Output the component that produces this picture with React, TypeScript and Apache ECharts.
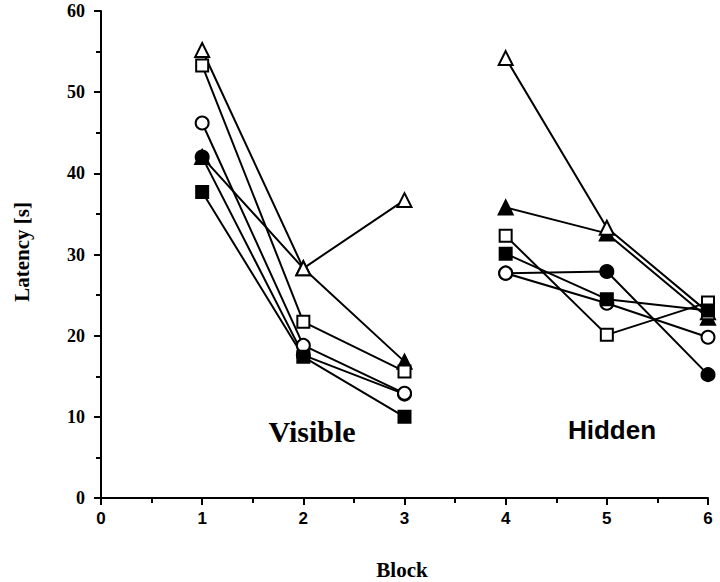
import React, { useEffect, useRef } from "react";
import * as echarts from "echarts";

const blocks = [1, 2, 3, 4, 5, 6];
const openTriangle = [55.2, 28.3, 36.7, 54.2, 33.3, 22.9];
const filledTriangle = [42.0, 28.3, 16.8, 35.8, 32.6, 22.2];
const openSquare = [53.3, 21.7, 15.6, 32.3, 20.1, 24.1];
const filledSquare = [37.7, 17.4, 10.0, 30.1, 24.5, 23.1];
const openCircle = [46.2, 18.8, 12.9, 27.7, 24.0, 19.8];
const filledCircle = [42.0, 17.6, 12.8, 27.7, 27.9, 15.2];
const phaseLabels = ["Visible", "Hidden"];

function toData(vals: number[]) {
  const d: any[] = [];
  vals.forEach((v, i) => {
    if (i === 3) d.push([3.5, "-"]);
    d.push([blocks[i], v]);
  });
  return d;
}

function mk(name: string, vals: number[], symbol: string, filled: boolean, size: number) {
  return {
    name,
    type: "line",
    data: toData(vals),
    symbol,
    symbolSize: size,
    connectNulls: false,
    lineStyle: { color: "#000", width: 2 },
    itemStyle: { color: filled ? "#000" : "#fff", borderColor: "#000", borderWidth: 2 },
    emphasis: { disabled: true },
  };
}

export default function App() {
  const ref = useRef<HTMLDivElement>(null);
  useEffect(() => {
    if (!ref.current) return;
    const chart = echarts.init(ref.current, undefined, { renderer: "svg" });
    const serif = "'Liberation Serif', 'Times New Roman', serif";
    const sans = "'Liberation Sans', Arial, sans-serif";
    chart.setOption({
      animation: false,
      backgroundColor: "#fff",
      grid: { left: 101, right: 12, top: 11, bottom: 84 },
      xAxis: {
        type: "value",
        min: 0,
        max: 6,
        interval: 1,
        axisLine: { show: true, onZero: false, lineStyle: { color: "#000", width: 2 } },
        axisTick: { show: true, length: 7, lineStyle: { color: "#000", width: 2 } },
        minorTick: { show: true, splitNumber: 2, length: 5, lineStyle: { color: "#000", width: 2 } },
        splitLine: { show: false },
        axisLabel: { color: "#000", fontFamily: sans, fontWeight: "bold", fontSize: 17, margin: 12 },
      },
      yAxis: {
        type: "value",
        min: 0,
        max: 60,
        interval: 10,
        axisLine: { show: true, lineStyle: { color: "#000", width: 2 } },
        axisTick: { show: true, length: 7, lineStyle: { color: "#000", width: 2 } },
        minorTick: { show: true, splitNumber: 2, length: 5, lineStyle: { color: "#000", width: 2 } },
        splitLine: { show: false },
        axisLabel: { color: "#000", fontFamily: serif, fontWeight: "bold", fontSize: 18, margin: 16 },
      },
      series: [
        mk("filledTriangle", filledTriangle, "triangle", true, 14),
        mk("openTriangle", openTriangle, "triangle", false, 14),
        mk("filledCircle", filledCircle, "circle", true, 13),
        mk("openCircle", openCircle, "circle", false, 13),
        mk("openSquare", openSquare, "rect", false, 12),
        mk("filledSquare", filledSquare, "rect", true, 12),
      ],
      graphic: [
        {
          type: "text",
          x: 22,
          y: 252,
          rotation: Math.PI / 2,
          style: {
            text: "Latency [s]",
            font: `bold 21px ${serif}`,
            fill: "#000",
            align: "center",
            verticalAlign: "middle",
          },
        },
        {
          type: "text",
          x: 402,
          y: 570,
          style: { text: "Block", font: `bold 21px ${serif}`, fill: "#000", align: "center", verticalAlign: "middle" },
        },
        {
          type: "text",
          x: 312,
          y: 431,
          style: { text: phaseLabels[0], font: `bold 30px ${serif}`, fill: "#000", align: "center", verticalAlign: "middle" },
        },
        {
          type: "text",
          x: 612,
          y: 430,
          style: { text: phaseLabels[1], font: `bold 26px ${sans}`, fill: "#000", align: "center", verticalAlign: "middle" },
        },
      ],
    });
    return () => chart.dispose();
  }, []);
  return <div ref={ref} style={{ position: "absolute", left: 0, top: 0, width: 720, height: 582, background: "#fff" }} />;
}
